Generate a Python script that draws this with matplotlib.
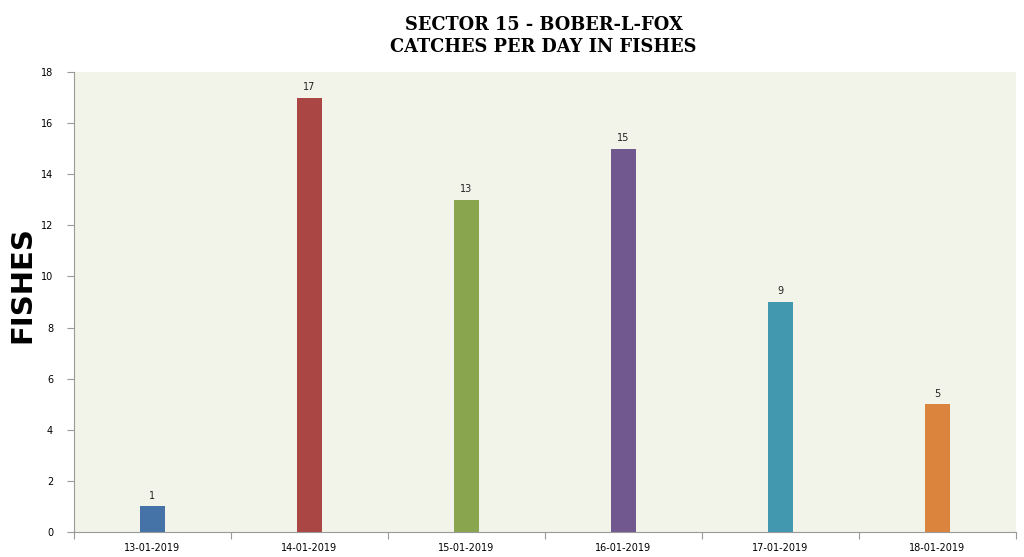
import matplotlib.pyplot as plt
import numpy as np

days = ['13-01-2019', '14-01-2019', '15-01-2019', '16-01-2019', '17-01-2019', '18-01-2019']
catches = [1, 17, 13, 15, 9, 5]
bar_colors = ['#4572A7', '#AA4643', '#89A54E', '#71588F', '#4198AF', '#DB843D']

fig = plt.figure(figsize=(10.24, 5.57), dpi=100)
ax = fig.add_axes([74 / 1024, 25 / 557, (1016 - 74) / 1024, (532 - 72) / 557])

x = np.arange(len(days))
ax.bar(x, catches, width=0.165, color=bar_colors, zorder=2)
for xi, v in zip(x, catches):
    ax.text(xi, v + 0.22, str(v), ha='center', va='bottom', fontsize=7, color='#222222')

ax.set_xlim(-0.5, len(days) - 0.5)
ax.set_ylim(0, 18)
ax.set_yticks(range(0, 19, 2))
ax.set_facecolor('#F2F4EA')

# category boundary ticks on x, labels in the middle
ax.set_xticks(np.arange(-0.5, len(days), 1.0))
ax.set_xticklabels([])
ax.set_xticks(x, minor=True)
ax.set_xticklabels(days, minor=True, fontsize=7)
ax.tick_params(axis='x', which='minor', length=0, pad=8)
ax.tick_params(axis='x', which='major', length=5, color='#999999', direction='out')
ax.tick_params(axis='y', length=5, color='#999999', labelsize=7, pad=10)

for side in ['top', 'right']:
    ax.spines[side].set_visible(False)
for side in ['left', 'bottom']:
    ax.spines[side].set_color('#999999')
    ax.spines[side].set_linewidth(0.8)

fig.text(0.531, 0.935, 'SECTOR 15 - BOBER-L-FOX\nCATCHES PER DAY IN FISHES',
         ha='center', va='center', fontsize=12.8, fontweight='heavy',
         family='DejaVu Serif', linespacing=1.3)
fig.text(0.022, 0.49, 'FISHES', rotation=90, ha='center', va='center',
         fontsize=21, fontweight='heavy', family='DejaVu Sans')

fig.savefig('out.png', dpi=100, facecolor='white')
